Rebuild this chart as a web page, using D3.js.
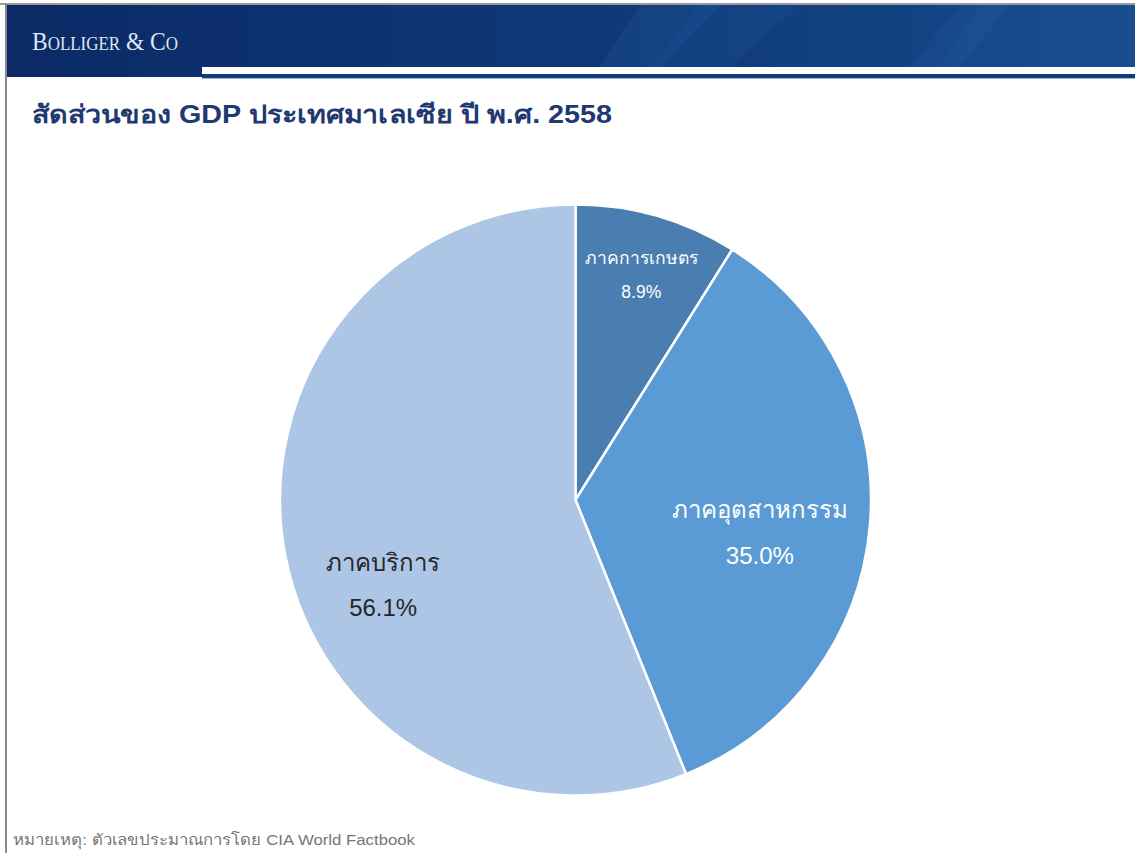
<!DOCTYPE html>
<html>
<head>
<meta charset="utf-8">
<script src="https://cdn.jsdelivr.net/npm/d3@7"></script>
<style>
  body { margin: 0; background: #fff; }
  svg { display: block; }
</style>
</head>
<body>
<div class="chart"></div>
<script>
// data
const sectors = ["ภาคการเกษตร", "ภาคอุตสาหกรรม", "ภาคบริการ"];
const shares = [8.9, 35.0, 56.1];
const sectorColors = ["#4a7eb1", "#5b9bd5", "#adc6e6"];
const labelColors = ["#ffffff", "#ffffff", "#262626"];

const titleText = "สัดส่วนของ GDP ประเทศมาเลเซีย ปี พ.ศ. 2558";
const noteText = "หมายเหตุ: ตัวเลขประมาณการโดย CIA World Factbook";

var w = 1135, h = 853;
var cx = 575.5, cy = 500, radius = 295.5;
var thaiFont = "'Liberation Sans', Arial, 'Noto Sans', sans-serif";

var svg = d3.select(".chart")
    .append("svg")
    .attr("width", w)
    .attr("height", h);

var defs = svg.append("defs");
var grad = defs.append("linearGradient") // header background
    .attr("id", "hdr")
    .attr("x1", "0").attr("x2", "1").attr("y1", "0").attr("y2", "0");
grad.append("stop").attr("offset", "0%").attr("stop-color", "#0b2a66");
grad.append("stop").attr("offset", "50%").attr("stop-color", "#0f3777");
grad.append("stop").attr("offset", "100%").attr("stop-color", "#154a8b");

// header band
svg.append("rect")
    .attr("x", 6).attr("y", 5)
    .attr("width", w - 6).attr("height", 72)
    .attr("fill", "url(#hdr)");

// soft diagonal panels on the right side of the header
var panels = [
    [[640, 5], [720, 5], [660, 67], [600, 67]],
    [[700, 5], [800, 5], [730, 67], [650, 67]],
    [[960, 5], [1010, 5], [960, 67], [910, 67]],
    [[980, 5], [1135, 5], [1135, 67], [940, 67]]
];
svg.selectAll(".panel")
    .data(panels)
    .enter()
    .append("polygon")
    .attr("class", "panel")
    .attr("points", d => d.map(p => p.join(",")).join(" "))
    .attr("fill", "#2a66a8")
    .attr("opacity", (d, i) => [0.2, 0.14, 0.18, 0.16][i]);

// white stripe + dark rule under the header
svg.append("rect")
    .attr("x", 202).attr("y", 67)
    .attr("width", w - 202).attr("height", 7)
    .attr("fill", "#ffffff");
svg.append("rect")
    .attr("x", 202).attr("y", 74)
    .attr("width", w - 202).attr("height", 4)
    .attr("fill", "#123d7c");
svg.append("rect")
    .attr("x", 202).attr("y", 78)
    .attr("width", w - 202).attr("height", 1)
    .attr("fill", "#9fb6d6");

// frame lines
svg.append("rect")
    .attr("x", 0).attr("y", 3)
    .attr("width", w).attr("height", 2)
    .attr("fill", "#9a9a9a");
svg.append("rect")
    .attr("x", 5).attr("y", 3)
    .attr("width", 2).attr("height", h - 3)
    .attr("fill", "#8a8a8a");

// logo
svg.append("text")
    .attr("x", 32)
    .attr("y", 50)
    .attr("font-family", "'Liberation Serif', 'DejaVu Serif', serif")
    .attr("font-size", 25)
    .attr("font-variant", "small-caps")
    .attr("fill", "#dfe7f3")
    .attr("textLength", 146)
    .attr("lengthAdjust", "spacingAndGlyphs")
    .text("Bolliger & Co");

// title
svg.append("text")
    .attr("x", 32)
    .attr("y", 123)
    .attr("font-family", thaiFont)
    .attr("font-size", 25)
    .attr("font-weight", "bold")
    .attr("fill", "#1f3a70")
    .attr("textLength", 580)
    .attr("lengthAdjust", "spacingAndGlyphs")
    .text(titleText);

// pie
var pie = d3.pie()
    .value(d => d)
    .sort(null);
var arc = d3.arc()
    .innerRadius(0)
    .outerRadius(radius);

var arcs = pie(shares);

var g = svg.append("g")
    .attr("transform", `translate(${cx},${cy})`);

g.selectAll("path")
    .data(arcs)
    .enter()
    .append("path")
    .attr("d", arc)
    .attr("fill", (d, i) => sectorColors[i])
    .attr("stroke", "#ffffff")
    .attr("stroke-width", 2.5)
    .attr("stroke-linejoin", "round");

// labels: centroid at a per-slice radius, nudged like the Excel "best fit"
var labelRadius = [0.77, 0.64, 0.725];
var labelShift = [[3, 0], [-4, 24], [18, 53]];
var labelSize = [17.5, 24, 24];
var lineGap = [34, 46, 45];

arcs.forEach(function(d, i) {
    var la = d3.arc()
        .innerRadius(radius * labelRadius[i])
        .outerRadius(radius * labelRadius[i]);
    var c = la.centroid(d);
    var x = c[0] + labelShift[i][0];
    var y = c[1] + labelShift[i][1];
    var t = g.append("text")
        .attr("text-anchor", "middle")
        .attr("font-family", thaiFont)
        .attr("font-size", labelSize[i])
        .attr("fill", labelColors[i]);
    t.append("tspan") // sector name
        .attr("x", x)
        .attr("y", y - lineGap[i] / 2)
        .text(sectors[i]);
    t.append("tspan") // share
        .attr("x", x)
        .attr("y", y + lineGap[i] / 2)
        .text(d3.format(".1f")(shares[i]) + "%");
});

// footnote
svg.append("text")
    .attr("x", 13)
    .attr("y", 845)
    .attr("font-family", thaiFont)
    .attr("font-size", 15)
    .attr("fill", "#767676")
    .attr("textLength", 402)
    .attr("lengthAdjust", "spacingAndGlyphs")
    .text(noteText);
</script>
</body>
</html>
